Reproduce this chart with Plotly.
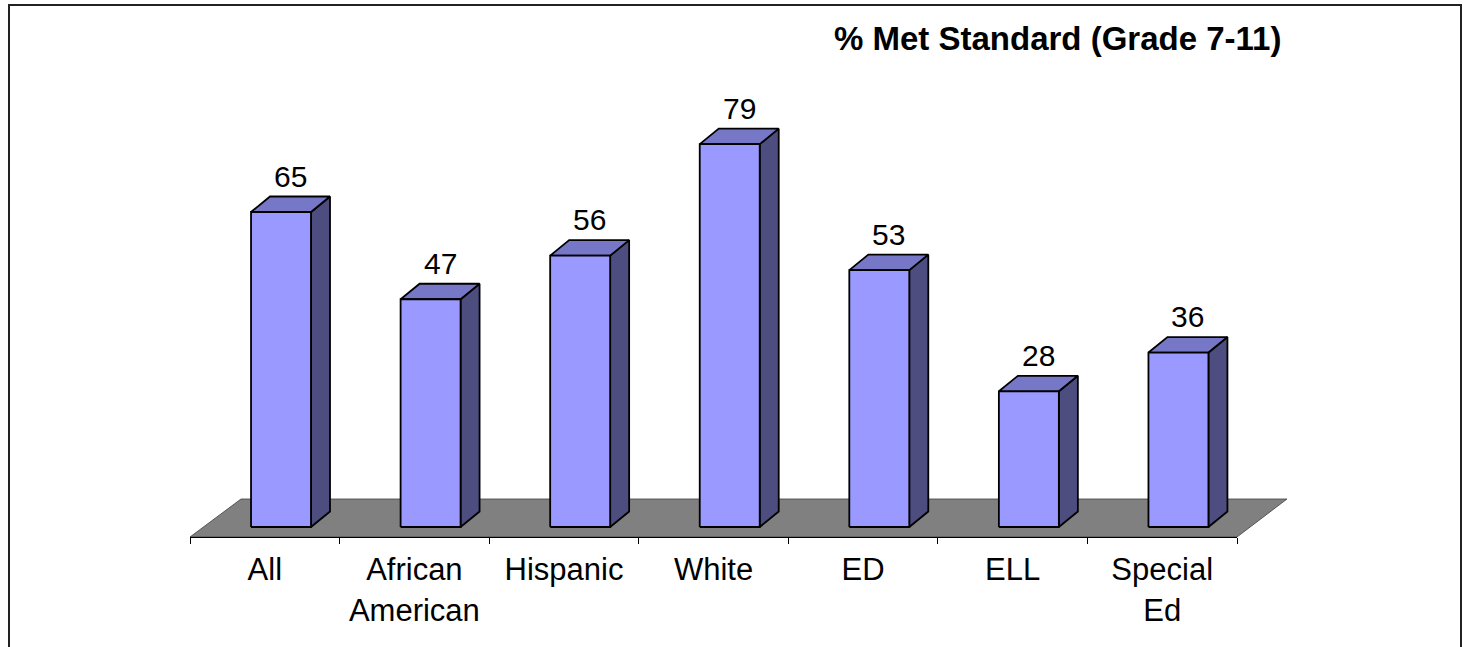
import plotly.graph_objects as go

categories = ["All", "African<br>American", "Hispanic", "White", "ED", "ELL", "Special<br>Ed"]
values = [65, 47, 56, 79, 53, 28, 36]
title_text = "% Met Standard (Grade 7-11)"

FRONT = "#9999FF"
TOP = "#7777C8"
SIDE = "#4D4D80"
EDGE = "#000000"

# bar geometry in axis units
A, B = -0.092, 0.309      # front face left/right relative to category center
DX, DY = 0.127, 3.2       # depth offset

W, H = 1464, 647
L, R, T, BM = 190, 227, 0, 110
PW, PH = W - L - R, H - T - BM
PPU = 4.846               # pixels per value unit

def px_to_paper(x, y):
    return (x - L) / PW, (H - BM - y) / PH

fig = go.Figure()

for i, v in enumerate(values):
    front_x = [i + A, i + B, i + B, i + A, i + A]
    front_y = [0, 0, v, v, 0]
    side_x = [i + B, i + B + DX, i + B + DX, i + B, i + B]
    side_y = [0, DY, v + DY, v, 0]
    top_x = [i + A, i + B, i + B + DX, i + A + DX, i + A]
    top_y = [v, v, v + DY, v + DY, v]
    for xs, ys, col in [(side_x, side_y, SIDE), (top_x, top_y, TOP), (front_x, front_y, FRONT)]:
        fig.add_trace(go.Scatter(x=xs, y=ys, fill="toself", fillcolor=col, mode="lines",
                                 line=dict(color=EDGE, width=1.8), hoverinfo="skip",
                                 showlegend=False))
    fig.add_annotation(x=i + (A + B) / 2 + DX / 2, y=v + DY, text=str(v), showarrow=False,
                       xref="x", yref="y", yanchor="bottom", yshift=2,
                       font=dict(family="Arial, Liberation Sans", size=30, color="black"))

# floor (decorative, paper coords)
fl = [px_to_paper(190, 537), px_to_paper(241, 499), px_to_paper(1287, 499), px_to_paper(1237, 537)]
path = "M {} {} L {} {} L {} {} L {} {} Z".format(*[c for p in fl for c in p])
fig.add_shape(type="path", path=path, xref="paper", yref="paper", layer="below",
              fillcolor="#808080", line=dict(color="#404040", width=0.8))

# outer frame
fx0, fy0 = px_to_paper(9, 700)
fx1, fy1 = px_to_paper(1461, 5)
fig.add_shape(type="rect", x0=fx0, y0=fy0, x1=fx1, y1=fy1, xref="paper", yref="paper",
              line=dict(color="#222222", width=2), layer="above")

# title
tx, ty = px_to_paper(1283, 39)
fig.add_annotation(x=tx, y=ty, xref="paper", yref="paper", text="<b>" + title_text + "</b>",
                   showarrow=False, xanchor="right", yanchor="middle",
                   font=dict(family="Arial, Liberation Sans", size=33, color="black"))

fig.update_layout(
    width=W, height=H,
    margin=dict(l=L, r=R, t=T, b=BM, pad=0),
    paper_bgcolor="white", plot_bgcolor="rgba(0,0,0,0)",
    showlegend=False,
    xaxis=dict(range=[-0.5, 6.5], tickvals=list(range(len(categories))), ticktext=categories,
               ticks="", showgrid=False, zeroline=False, showline=True, linecolor="black",
               linewidth=1, ticklabelstandoff=5,
               tickfont=dict(family="Arial, Liberation Sans", size=31, color="black"),
               minor=dict(tickvals=[k - 0.5 for k in range(len(categories) + 1)],
                          ticks="outside", ticklen=6, tickcolor="black", tickwidth=1,
                          showgrid=False),
               fixedrange=True),
    yaxis=dict(range=[-10 / PPU, (PH - 10) / PPU], visible=False, showgrid=False,
               zeroline=False, fixedrange=True),
)

fig.write_html("out.html")
